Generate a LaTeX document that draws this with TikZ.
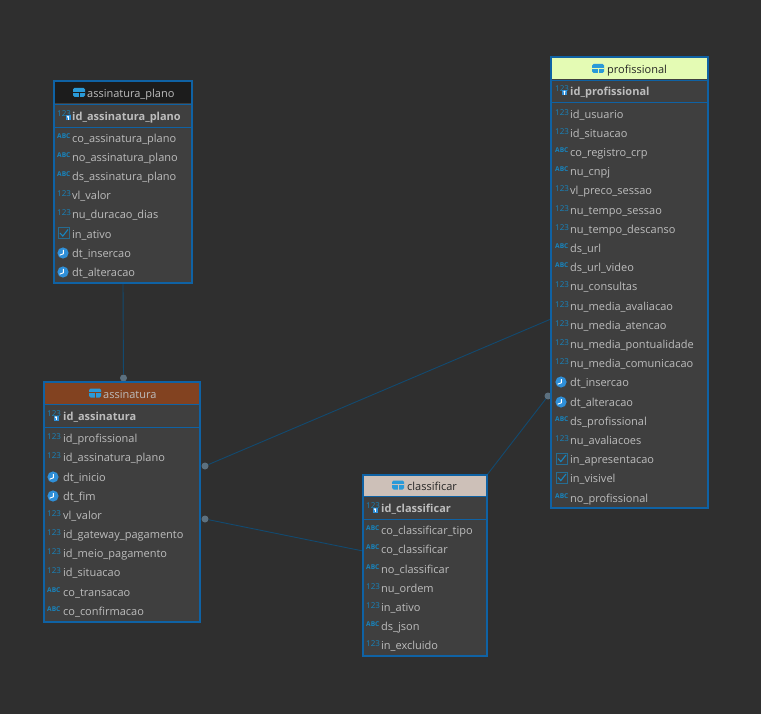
\documentclass[tikz,border=0pt]{standalone}
\usepackage{fontspec}
\setmainfont{Open Sans}
\definecolor{bgc}{HTML}{2F2F2F}
\definecolor{tblc}{HTML}{3F3F3F}
\definecolor{edgec}{HTML}{0F62A4}
\definecolor{linkc}{HTML}{124A70}
\definecolor{dotc}{HTML}{5C707F}
\definecolor{txtc}{HTML}{BDBDBD}
\definecolor{iconc}{HTML}{1784BE}
\definecolor{clockc}{HTML}{2F8FD8}
\definecolor{tabc}{HTML}{2A9AD8}
\definecolor{hplano}{HTML}{1C1C1C}
\definecolor{hprof}{HTML}{E4FBB4}
\definecolor{hass}{HTML}{824220}
\definecolor{hclass}{HTML}{CDC0B8}
\tikzset{
  tablebox/.style={draw=edgec,line width=1.6pt,fill=tblc,minimum width=#1,inner sep=0pt,outer sep=0pt,anchor=north west},
  coltext/.style={text=txtc,font=\fontsize{11}{13}\selectfont,inner sep=0pt,anchor=base west},
  pktext/.style={text=txtc,font=\fontsize{11}{13}\selectfont\bfseries,inner sep=0pt,anchor=base west},
  headtext/.style={font=\fontsize{11}{13}\selectfont,inner sep=0pt,anchor=base west},
  numicon/.style={text=iconc,font=\fontsize{8}{9}\selectfont,inner sep=0pt,anchor=base west},
  abcicon/.style={text=iconc,font=\fontsize{6.6}{8}\selectfont\bfseries,inner sep=0pt,anchor=base west},
  reldot/.style={circle,fill=dotc,inner sep=0pt,minimum size=7pt},
  relline/.style={draw=linkc,line width=0.9pt},
}
\newcounter{rw}
\newcommand{\icnum}[2]{\stepcounter{rw}\node[numicon] (ic\therw) at (#1,#2+1.6) {123};}
\newcommand{\icabc}[2]{\stepcounter{rw}\node[abcicon] (ic\therw) at (#1,#2+0.8) {ABC};}
\newcommand{\icclock}[2]{\fill[clockc] (#1+6,#2) circle (5.6);
  \draw[white,line width=0.9pt] (#1+6.4,#2-3) -- (#1+6.4,#2+0.8) -- (#1+2.6,#2+2.2);}
\newcommand{\iccheck}[2]{\draw[iconc!65!tblc,line width=1pt] (#1+1,#2-5.5) rectangle (#1+12,#2+5.5);
  \draw[iconc,line width=1.1pt] (#1+3,#2-0.5) -- (#1+5.8,#2+2.6) -- (#1+11,#2-4);}
\newcommand{\ickey}[2]{\fill[clockc] (#1+6.5,#2+0) rectangle (#1+11.5,#2+5.5);
  \fill[white] (#1+9,#2+1.8) circle (1.1);
  \fill[white] (#1+8.6,#2+1.8) rectangle (#1+9.4,#2+4.6);}
\newcommand{\ictable}[3]{\fill[tabc,rounded corners=1.5] (#1,#2-4.5) rectangle (#1+12,#2+4.5);
  \draw[#3,line width=0.7pt] (#1,#2-0.6) -- (#1+12,#2-0.6);
  \draw[#3,line width=0.7pt] (#1+6,#2-0.6) -- (#1+6,#2+4.5);}
\newcommand{\colrow}[5]{\csname ic#4\endcsname{#1}{#3}%
  \stepcounter{rw}\node[coltext] (tx\therw) at (#2,#3+4.6) {#5};}
\begin{document}
\begin{tikzpicture}[x=1pt,y=-1pt]
\useasboundingbox (0,0) rectangle (761,714);
\fill[bgc] (0,0) rectangle (761,714);

% connector anchors and dots
\node[reldot] (dotplano) at (123.5,378) {};
\node[reldot] (dotprof) at (205,466) {};
\node[reldot] (dotclass) at (205,519) {};
\node[reldot] (dotprofb) at (548,396) {};
\coordinate (endplano) at (123,283);
\coordinate (endprof) at (551,319);
\coordinate (endclass) at (363,551);
\coordinate (endclassb) at (487,475);
\draw[relline] (endplano) -- (dotplano);
\draw[relline] (endprof) -- (dotprof);
\draw[relline] (endclass) -- (dotclass);
\draw[relline] (endclassb) -- (dotprofb);

% assinatura_plano
\node[tablebox=138pt,minimum height=202pt] (plano) at (54,81) {};
\fill[hplano] (54.8,81.8) rectangle (191.2,103.5);
\ictable{73}{92.5}{hplano}
\node[headtext,text=txtc] (planoh) at (87,97.6) {assinatura\_plano};
\draw[edgec,line width=.8pt] (54,104) -- (192,104) (54,127) -- (192,127);
\icnum{57}{115}\ickey{59}{115}
\node[pktext] (planok) at (72,120.6) {id\_assinatura\_plano};
\colrow{57}{72}{138}{abc}{co\_assinatura\_plano}
\colrow{57}{72}{157}{abc}{no\_assinatura\_plano}
\colrow{57}{72}{176}{abc}{ds\_assinatura\_plano}
\colrow{57}{72}{195}{num}{vl\_valor}
\colrow{57}{72}{214}{num}{nu\_duracao\_dias}
\colrow{57}{72}{233.5}{check}{in\_ativo}
\colrow{57}{72}{253}{clock}{dt\_insercao}
\colrow{57}{72}{272}{clock}{dt\_alteracao}

% profissional
\node[tablebox=157pt,minimum height=451pt] (prof) at (551,57) {};
\fill[hprof] (551.8,57.8) rectangle (707.2,79.5);
\ictable{592}{68.5}{hprof}
\node[headtext,text=black!85] (profh) at (607,73.6) {profissional};
\draw[edgec,line width=.8pt] (551,80) -- (708,80) (551,102) -- (708,102);
\icnum{555}{90}\ickey{555.5}{90}
\node[pktext] (profk) at (570,95.8) {id\_profissional};
\colrow{555}{570}{114}{num}{id\_usuario}
\colrow{555}{570}{133}{num}{id\_situacao}
\colrow{555}{570}{152}{abc}{co\_registro\_crp}
\colrow{555}{570}{171}{abc}{nu\_cnpj}
\colrow{555}{570}{190}{num}{vl\_preco\_sessao}
\colrow{555}{570}{210}{num}{nu\_tempo\_sessao}
\colrow{555}{570}{229}{num}{nu\_tempo\_descanso}
\colrow{555}{570}{248}{abc}{ds\_url}
\colrow{555}{570}{267}{abc}{ds\_url\_video}
\colrow{555}{570}{286}{num}{nu\_consultas}
\colrow{555}{570}{306}{num}{nu\_media\_avaliacao}
\colrow{555}{570}{325}{num}{nu\_media\_atencao}
\colrow{555}{570}{344}{num}{nu\_media\_pontualidade}
\colrow{555}{570}{363}{num}{nu\_media\_comunicacao}
\colrow{555}{570}{382}{clock}{dt\_insercao}
\colrow{555}{570}{402}{clock}{dt\_alteracao}
\colrow{555}{570}{421}{abc}{ds\_profissional}
\colrow{555}{570}{440}{num}{nu\_avaliacoes}
\colrow{555}{570}{459}{check}{in\_apresentacao}
\colrow{555}{570}{478}{check}{in\_visivel}
\colrow{555}{570}{498}{abc}{no\_profissional}

% assinatura
\node[tablebox=156pt,minimum height=240pt] (assin) at (44,382) {};
\fill[hass] (44.8,382.8) rectangle (199.2,403.5);
\ictable{89}{393}{hass}
\node[headtext,text=txtc] (assinh) at (103,398.4) {assinatura};
\draw[edgec,line width=.8pt] (44,404) -- (200,404) (44,427) -- (200,427);
\icnum{47}{415}\ickey{47}{415.5}
\node[pktext] (assink) at (63,420.8) {id\_assinatura};
\colrow{47}{63}{438}{num}{id\_profissional}
\colrow{47}{63}{457}{num}{id\_assinatura\_plano}
\colrow{47}{63}{477}{clock}{dt\_inicio}
\colrow{47}{63}{496}{clock}{dt\_fim}
\colrow{47}{63}{515}{num}{vl\_valor}
\colrow{47}{63}{534}{num}{id\_gateway\_pagamento}
\colrow{47}{63}{553}{num}{id\_meio\_pagamento}
\colrow{47}{63}{572}{num}{id\_situacao}
\colrow{47}{63}{592}{abc}{co\_transacao}
\colrow{47}{63}{611}{abc}{co\_confirmacao}

% classificar
\node[tablebox=124pt,minimum height=181pt] (class) at (363,475) {};
\fill[hclass] (363.8,475.8) rectangle (486.2,495.5);
\ictable{392}{485}{hclass}
\node[headtext,text=black!85] (classh) at (407,490.4) {classificar};
\draw[edgec,line width=.8pt] (363,496) -- (487,496) (363,519) -- (487,519);
\icnum{366}{507}\ickey{366}{507.5}
\node[pktext] (classk) at (381,512.8) {id\_classificar};
\colrow{366}{381}{530}{abc}{co\_classificar\_tipo}
\colrow{366}{381}{549}{abc}{co\_classificar}
\colrow{366}{381}{569}{abc}{no\_classificar}
\colrow{366}{381}{588}{num}{nu\_ordem}
\colrow{366}{381}{607}{num}{in\_ativo}
\colrow{366}{381}{626}{abc}{ds\_json}
\colrow{366}{381}{645}{num}{in\_excluido}
\end{tikzpicture}
\end{document}
